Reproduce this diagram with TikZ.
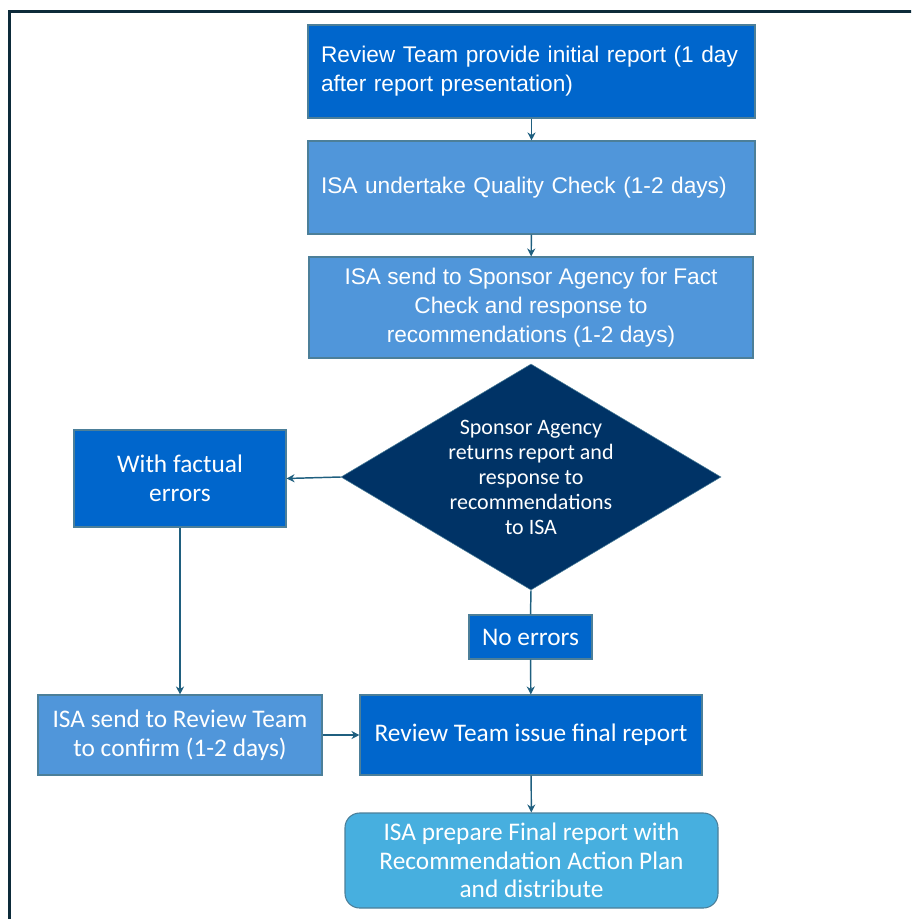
\documentclass[tikz,border=0pt]{standalone}
\usepackage{fontspec}
\setmainfont{Liberation Sans}
\newfontfamily\narrowfont{Carlito}
\definecolor{deepblue}{HTML}{0066CC}
\definecolor{midblue}{HTML}{5096DA}
\definecolor{navy}{HTML}{003366}
\definecolor{skyblue}{HTML}{47AFDF}
\definecolor{edge}{HTML}{1F5F7F}
\definecolor{framecol}{HTML}{0D2B3A}
\usetikzlibrary{arrows.meta,shapes.geometric,positioning}
\tikzset{
  box_base/.style={draw=edge!80,line width=0.8pt,inner sep=0pt,text=white,align=center},
  box_deep/.style={box_base,fill=deepblue},
  box_mid/.style={box_base,fill=midblue},
  box_end/.style={box_base,fill=skyblue,rounded corners=11pt},
  decision/.style={diamond,draw=edge!80,fill=navy,inner sep=-30pt,text=white,align=center,
    minimum width=285pt,minimum height=169.5pt,font=\narrowfont\fontsize{16.5}{18.75}\selectfont},
  font_top/.style={font=\fontsize{17}{21.75}\selectfont},
  font_low/.style={font=\narrowfont\fontsize{19}{21.5}\selectfont},
  arr/.style={-{Stealth[length=6pt,width=6pt]},draw=edge,line width=1.1pt},
  lnk/.style={draw=edge,line width=1.1pt},
}
\begin{document}
\begin{tikzpicture}[x=0.75pt,y=-0.75pt]
    \useasboundingbox (0,0) rectangle (911,919);
    \clip (0,0) rectangle (911,919);
    \draw[framecol,line width=2.25pt] (9,12) rectangle (940,950);
    % upper column
    \node[box_deep,font_top,align=left,text width=315.75pt,minimum height=69.75pt,inner xsep=9.75pt] (init) at (531.5,71.5)
      {Review Team provide initial report (1 day\\after report presentation)};
    \node[box_mid,font_top,align=left,text width=315.75pt,minimum height=69.75pt,inner xsep=9.75pt] (qual) at (531.5,187.5)
      {ISA undertake Quality Check (1-2 days)};
    \node[box_mid,font_top,minimum width=333pt,minimum height=75.75pt] (fact) at (531,307.5)
      {ISA send to Sponsor Agency for Fact\\Check and response to\\recommendations (1-2 days)};
    \node[decision] (resp) at (531,477)
      {Sponsor Agency\\returns report and\\response to\\recommendations\\to ISA};
    % branches
    \node[box_deep,font_low,minimum width=159pt,minimum height=72.75pt] (errs) at (180,478.5)
      {With factual\\errors};
    \node[box_deep,font_low,minimum width=92.25pt,minimum height=33pt] (noerr) at (530.5,637)
      {No errors};
    \node[box_mid,font_low,minimum width=213pt,minimum height=60pt] (conf) at (180,735)
      {ISA send to Review Team\\to confirm (1-2 days)};
    \node[box_deep,font_low,minimum width=256.5pt,minimum height=60pt] (final) at (531,735)
      {Review Team issue final report};
    \node[box_end,font_low,minimum width=279.75pt,minimum height=71.25pt] (plan) at (531.5,860.5)
      {ISA prepare Final report with\\Recommendation Action Plan\\and distribute};
    % connectors
    \draw[arr] (init) -- (qual);
    \draw[arr] (qual) -- (fact);
    \draw[arr] (resp.west) -- (errs.east);
    \draw[lnk] (resp.south) -- (noerr.north);
    \draw[arr] (noerr) -- (final);
    \draw[arr] (errs) -- (conf);
    \draw[arr] (conf) -- (final);
    \draw[arr] (final) -- (plan);
  \end{tikzpicture}
\end{document}
